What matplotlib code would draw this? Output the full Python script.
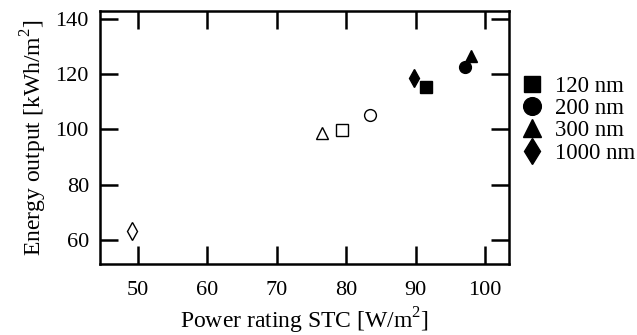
import matplotlib
matplotlib.use("Agg")
import matplotlib.pyplot as plt

plt.rcParams['font.family'] = ['Liberation Serif']
plt.rcParams['mathtext.fontset'] = 'custom'
plt.rcParams['mathtext.rm'] = 'Liberation Serif'

labels = ["120 nm", "200 nm", "300 nm", "1000 nm"]
markers = ["s", "o", "^", "d"]
# filled markers
power_filled = [91.5, 97.1, 98.0, 89.8]
energy_filled = [115.4, 122.6, 126.6, 118.6]
# open markers
power_open = [79.4, 83.5, 76.5, 49.2]
energy_open = [99.8, 105.2, 98.7, 63.3]

sizes = [8, 8.5, 8.5, 9]

fig = plt.figure(figsize=(6.37, 3.35), dpi=100)
ax = fig.add_axes([100/637, 1 - 264/335, 409/637, 253/335])

for i in range(len(labels)):
    ax.plot(power_filled[i], energy_filled[i], marker=markers[i], color='black',
            linestyle='none', markersize=sizes[i], label=labels[i])
    ax.plot(power_open[i], energy_open[i], marker=markers[i], markerfacecolor='white',
            markeredgecolor='black', linestyle='none', markeredgewidth=1,
            markersize=sizes[i])

ax.set_xlim(44.6, 103.45)
ax.set_ylim(51.3, 142.9)
ax.set_xticks([50, 60, 70, 80, 90, 100])
ax.set_yticks([60, 80, 100, 120, 140])
ax.tick_params(direction='in', length=13, width=1.8, top=True, right=True,
               labelsize=16)
ax.tick_params(axis='x', pad=12)
ax.tick_params(axis='y', pad=8)
for s in ax.spines.values():
    s.set_linewidth(1.8)

ax.set_xlabel(r"Power rating STC [W/m$^2$]", fontsize=17, labelpad=4)
ax.set_ylabel(r"Energy output [kWh/m$^2$]", fontsize=17, labelpad=5)

ax.legend(loc='upper left', bbox_to_anchor=(1.0, 0.79), frameon=False,
          fontsize=16.5, handletextpad=0.5, labelspacing=0.06, borderaxespad=0.1,
          handlelength=1.0, markerscale=1.5)

fig.savefig("out.png", dpi=100)
